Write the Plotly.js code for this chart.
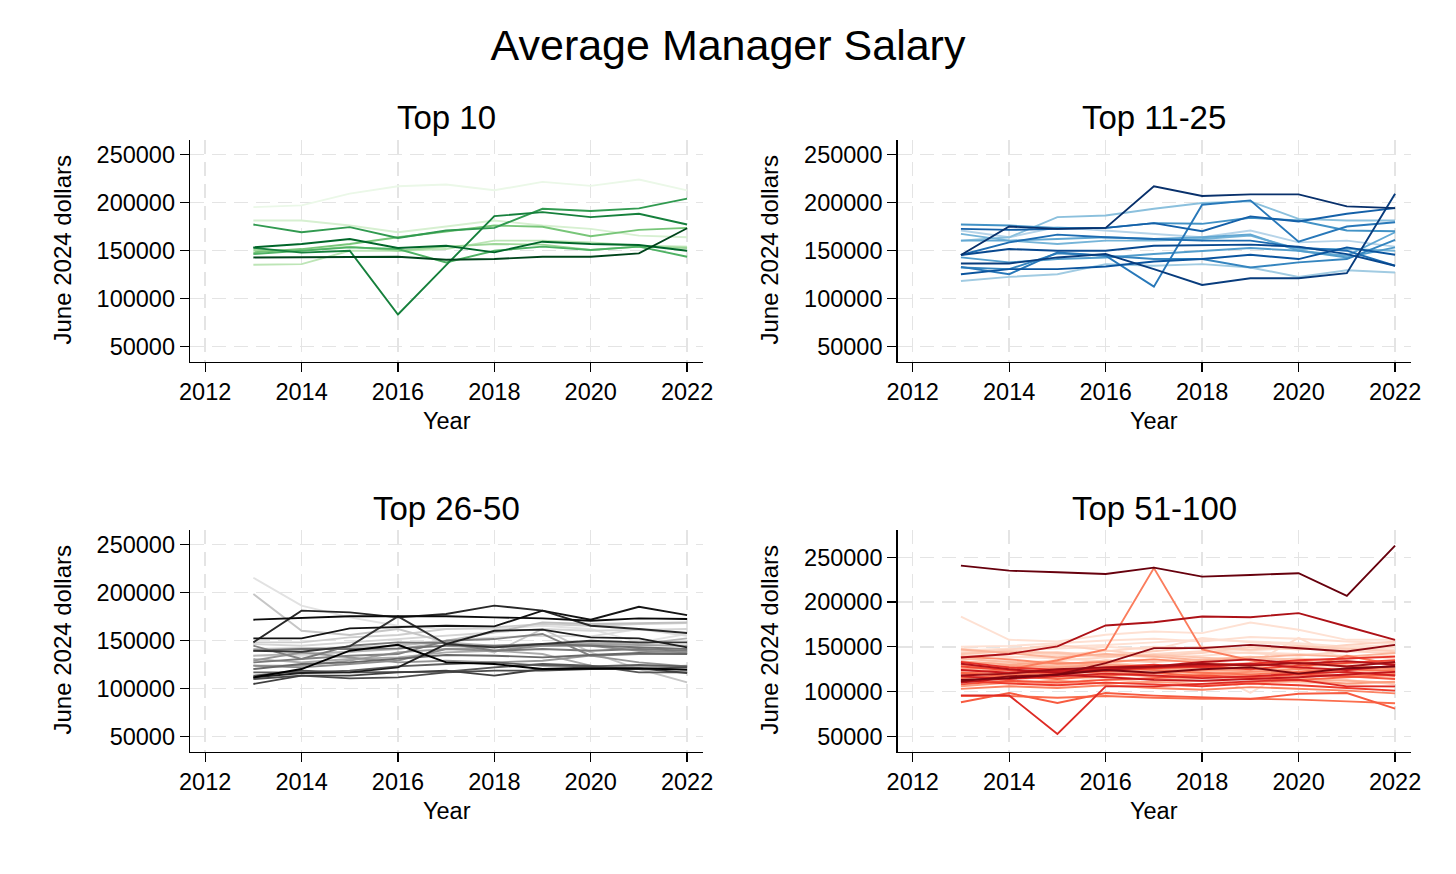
<!DOCTYPE html>
<html>
<head>
<meta charset="utf-8">
<script src="https://cdn.plot.ly/plotly-3.0.1.min.js"></script>
<style>html,body{margin:0;padding:0;background:#fff;}#chart{width:1456px;height:874px;}</style>
</head>
<body>
<div id="chart"></div>
<script>
// ---------- DATA ----------
const years = [2013, 2014, 2015, 2016, 2017, 2018, 2019, 2020, 2021, 2022];
const xTicks = [2012, 2014, 2016, 2018, 2020, 2022];
const yTicks = [50000, 100000, 150000, 200000, 250000];
const panelTitles = ["Top 10", "Top 11-25", "Top 26-50", "Top 51-100"];

// Top 10 managers (ordered light -> dark)
const top10 = [
  [195400, 197200, 209400, 217100, 218900, 212900, 221700, 217500, 224100, 212900],
  [181500, 181500, 176200, 169200, 175200, 181500, 176200, 172700, 165700, 164000],
  [135300, 136000, 150000, 150000, 151700, 160500, 160500, 158700, 155200, 154200],
  [150700, 150000, 154200, 150000, 154200, 157000, 156300, 150700, 154200, 152800],
  [148300, 151700, 157000, 164000, 170000, 176200, 175000, 165000, 171700, 173800],
  [146500, 150000, 153500, 151700, 137800, 150000, 154200, 150700, 154200, 143700],
  [177300, 169200, 174500, 163300, 171000, 173800, 193700, 191300, 194100, 204200],
  [153000, 148000, 150000, 83600, 135000, 186000, 190200, 185000, 188500, 177300],
  [153500, 157000, 162200, 152800, 155200, 148300, 159400, 157000, 155900, 150000],
  [143000, 143000, 143000, 143700, 140600, 141300, 143700, 143700, 147200, 173400]
];

// Top 11-25 (light -> dark)
const top11to25 = [
  [171000, 164000, 174500, 171000, 167500, 164000, 171000, 158700, 160500, 154200],
  [118500, 122700, 125500, 136000, 134300, 136000, 132500, 122700, 129700, 127300],
  [160500, 164000, 185000, 186700, 193700, 199700, 201400, 183200, 181500, 181500],
  [167500, 160500, 157000, 160500, 160500, 162200, 165700, 151700, 151700, 150000],
  [160500, 160500, 162200, 164000, 162200, 164000, 166800, 150000, 144800, 169200],
  [143000, 137800, 141300, 143000, 146500, 150000, 152800, 150000, 143000, 153500],
  [177300, 176200, 173800, 173800, 178700, 178000, 184300, 181500, 171000, 170300],
  [132500, 130800, 147200, 144800, 141300, 141300, 132500, 137800, 141300, 161200],
  [133200, 125500, 148300, 144800, 112600, 197900, 202400, 159400, 175200, 179700],
  [145500, 158700, 166800, 164000, 162200, 160500, 160500, 153500, 150000, 134300],
  [172700, 171700, 172700, 173800, 178700, 170300, 185700, 180400, 188500, 194400],
  [125500, 130800, 130800, 133600, 138800, 141300, 145800, 141300, 153500, 145800],
  [145500, 151700, 150000, 150000, 155200, 155900, 156300, 154200, 146500, 134300],
  [136700, 136700, 143000, 146500, 130800, 114300, 121300, 121300, 126600, 209400],
  [145500, 175200, 172700, 173800, 217100, 207000, 208700, 208700, 196200, 194400]
];

// Top 26-50 (light -> dark)
const top26to50 = [
  [215600, 186500, 174300, 165600, 162200, 162200, 165600, 162200, 148300, 157000],
  [134400, 134400, 137800, 146500, 150000, 153500, 155200, 154500, 162200, 155200],
  [146500, 144800, 148300, 151700, 155200, 158700, 162200, 160400, 161500, 162200],
  [148300, 148300, 153500, 155900, 162200, 163900, 167400, 165600, 167400, 168400],
  [198600, 160400, 155900, 162200, 148300, 137800, 162200, 137800, 120500, 106600],
  [141300, 142000, 143100, 144800, 150000, 158700, 169100, 167400, 168400, 169100],
  [134400, 136100, 138500, 141300, 148300, 144800, 145500, 148300, 146500, 152400],
  [130900, 127400, 130900, 132600, 137800, 139600, 136100, 124000, 122200, 124000],
  [124000, 124000, 129200, 137800, 141300, 143100, 144800, 146500, 145500, 144800],
  [129200, 137800, 132600, 127400, 129200, 127400, 129200, 134400, 127400, 123300],
  [124000, 122200, 125700, 129200, 141300, 139600, 144800, 144800, 139600, 137800],
  [144800, 130900, 134400, 136100, 150000, 151700, 157000, 134400, 136100, 136100],
  [127400, 130900, 144800, 148300, 147600, 139600, 141300, 139600, 141300, 139600],
  [139600, 141300, 141300, 142000, 144800, 144800, 146500, 144800, 143100, 141300],
  [120500, 125700, 127400, 130900, 135100, 134400, 132600, 135100, 137200, 136100],
  [117000, 117000, 118800, 123300, 125700, 127400, 124000, 123300, 124700, 123300],
  [113600, 118800, 117000, 117000, 117700, 122200, 125700, 124000, 117000, 117000],
  [110100, 113600, 110800, 111800, 117000, 118800, 118800, 120500, 120500, 122200],
  [104900, 113600, 113600, 117000, 118800, 113600, 120500, 122200, 121200, 116300],
  [139600, 138500, 144100, 175400, 146500, 143100, 146500, 150000, 148300, 148300],
  [148300, 181300, 179500, 174300, 177800, 186500, 181300, 165600, 162200, 158000],
  [111800, 116300, 117000, 122200, 146500, 160400, 161500, 153500, 152400, 143100],
  [152400, 152400, 162800, 163900, 165600, 164900, 181300, 171900, 185400, 176700],
  [171900, 173300, 175400, 175400, 175400, 174300, 173300, 170800, 173300, 172600],
  [111800, 120500, 139600, 145800, 127400, 125700, 120500, 120500, 121200, 119800]
];

// Top 51-100 (light -> dark)
const top51to100 = [
  [183800, 157800, 156000, 163400, 167100, 165300, 177100, 169000, 157800, 157800],
  [146000, 148000, 150000, 152000, 155000, 158000, 156000, 154000, 150000, 152000],
  [125000, 118000, 104000, 120000, 125000, 123000, 120000, 128000, 125000, 122000],
  [130000, 126000, 122000, 125000, 130000, 126000, 98500, 130000, 127000, 125000],
  [145000, 146000, 148000, 150000, 147000, 160000, 155000, 152000, 149000, 147000],
  [150000, 151000, 154000, 157000, 159000, 156000, 161000, 159000, 156000, 154000],
  [136000, 138000, 140000, 141000, 138000, 140000, 144000, 142000, 140000, 137000],
  [128000, 122000, 116000, 120000, 124000, 126000, 130000, 160000, 134000, 130000],
  [141000, 139000, 137000, 134000, 136000, 133000, 138000, 136000, 134000, 132000],
  [119000, 123000, 126000, 128000, 120000, 118000, 122000, 119000, 117000, 115000],
  [148000, 144000, 141000, 145000, 150000, 148000, 146000, 149000, 147000, 150000],
  [133000, 131000, 135000, 138000, 142000, 145000, 143000, 140000, 145000, 143000],
  [110000, 114000, 118000, 112000, 115000, 117000, 113000, 110000, 108000, 105000],
  [143000, 147000, 152000, 146000, 140000, 143000, 150000, 147000, 152000, 156000],
  [124000, 128000, 131000, 133000, 128000, 130000, 127000, 125000, 123000, 128000],
  [139000, 142000, 144000, 140000, 145000, 150000, 147000, 151000, 148000, 145000],
  [116000, 112000, 108000, 114000, 110000, 112000, 109000, 111000, 113000, 108000],
  [131000, 134000, 129000, 135000, 133000, 136000, 139000, 133000, 137000, 140000],
  [142000, 145000, 143000, 139000, 141000, 138000, 135000, 137000, 133000, 131000],
  [126000, 122000, 119000, 124000, 127000, 123000, 121000, 126000, 124000, 120000],
  [137000, 133000, 128000, 131000, 127000, 129000, 132000, 128000, 131000, 134000],
  [113000, 117000, 121000, 118000, 122000, 120000, 118000, 116000, 119000, 117000],
  [147000, 143000, 138000, 142000, 139000, 135000, 138000, 141000, 139000, 143000],
  [122000, 119000, 116000, 117000, 113000, 115000, 118000, 114000, 112000, 110000],
  [134000, 130000, 133000, 129000, 126000, 124000, 128000, 131000, 129000, 126000],
  [125000, 129000, 127000, 130000, 128000, 125000, 123000, 120000, 124000, 127000],
  [106000, 110000, 112000, 109000, 111000, 108000, 110000, 112000, 109000, 111000],
  [129000, 127000, 125000, 122000, 120000, 124000, 126000, 121000, 118000, 121000],
  [118000, 121000, 124000, 120000, 117000, 119000, 122000, 125000, 121000, 118000],
  [139000, 136000, 131000, 133000, 136000, 132000, 130000, 134000, 128000, 125000],
  [103000, 106000, 104000, 107000, 104000, 102000, 105000, 103000, 101000, 98000],
  [120000, 125000, 135000, 147000, 238000, 147000, 135000, 125000, 140000, 130000],
  [115000, 118000, 122000, 126000, 124000, 121000, 119000, 122000, 125000, 123000],
  [95000, 95000, 93000, 95000, 93000, 92000, 92000, 91000, 89000, 87000],
  [121000, 117000, 114000, 118000, 121000, 117000, 115000, 113000, 116000, 119000],
  [88000, 98400, 87200, 98400, 95400, 93900, 91700, 97600, 98400, 80900],
  [108000, 112000, 110000, 113000, 115000, 118000, 116000, 119000, 117000, 114000],
  [128000, 124000, 120000, 123000, 126000, 128000, 125000, 129000, 132000, 135000],
  [112000, 109000, 107000, 110000, 108000, 106000, 109000, 107000, 104000, 101000],
  [133000, 127000, 124000, 127000, 130000, 127000, 131000, 135000, 137000, 139000],
  [95700, 95700, 52600, 105800, 105800, 108800, 111400, 113200, 105800, 105800],
  [117000, 114000, 117000, 120000, 118000, 115000, 117000, 120000, 122000, 118000],
  [124000, 121000, 123000, 125000, 127000, 129000, 131000, 127000, 124000, 129000],
  [110000, 115000, 119000, 116000, 113000, 112000, 114000, 116000, 119000, 122000],
  [131000, 125000, 121000, 124000, 128000, 133000, 136000, 131000, 134000, 130000],
  [138000, 142000, 150400, 173800, 177500, 183800, 183100, 187600, 172700, 157800],
  [118000, 120000, 125000, 127000, 128000, 131000, 129000, 132000, 128000, 133000],
  [111400, 117000, 118800, 131800, 148500, 148500, 152200, 148500, 144800, 152200],
  [113000, 115000, 119000, 124000, 121000, 125000, 127000, 120000, 126000, 128000],
  [240700, 235100, 233300, 231400, 238500, 228400, 230300, 232200, 206900, 263000]
];

// ---------- STYLE ----------
const greens = ['#f7fcf5','#e5f5e0','#c7e9c0','#a1d99b','#74c476','#41ab5d','#238b45','#006d2c','#00441b'];
const blues  = ['#f7fbff','#deebf7','#c6dbef','#9ecae1','#6baed6','#4292c6','#2171b5','#08519c','#08306b'];
const greys  = ['#ffffff','#f0f0f0','#d9d9d9','#bdbdbd','#969696','#737373','#525252','#252525','#000000'];
const reds   = ['#fff5f0','#fee0d2','#fcbba1','#fc9272','#fb6a4a','#ef3b2c','#cb181d','#a50f15','#67000d'];

function hexToRgb(h){return [parseInt(h.slice(1,3),16),parseInt(h.slice(3,5),16),parseInt(h.slice(5,7),16)];}
function interp(scale, t){
  const p = t*(scale.length-1);
  const i = Math.min(Math.floor(p), scale.length-2);
  const f = p - i;
  const a = hexToRgb(scale[i]), b = hexToRgb(scale[i+1]);
  const c = a.map((v,k)=>Math.round(v+(b[k]-v)*f));
  return 'rgb('+c.join(',')+')';
}

const FONT = 'Liberation Sans, Arial, Helvetica, sans-serif';
const traces = [];
function addPanel(series, scale, tmin, tmax, gamma, xa, ya){
  const n = series.length;
  series.forEach((vals, i) => {
    const t = tmin + (tmax - tmin) * Math.pow(n > 1 ? i/(n-1) : 1, gamma);
    traces.push({
      x: years, y: vals, type: 'scatter', mode: 'lines',
      line: {color: interp(scale, t), width: 1.9},
      xaxis: xa, yaxis: ya, hoverinfo: 'skip', showlegend: false
    });
  });
}
addPanel(top10, greens, 0.08, 1, 1, 'x', 'y');
addPanel(top11to25, blues, 0.3, 1, 0.9, 'x2', 'y2');
addPanel(top26to50, greys, 0.2, 1, 1, 'x3', 'y3');
addPanel(top51to100, reds, 0.12, 1, 2.2, 'x4', 'y4');

const W = 1456, H = 874;
const leftDom = [190/W, 703/W], rightDom = [897.5/W, 1411/W];
const topDom = [1-361.7/H, 1-140/H], botDom = [1-751.7/H, 1-530/H];

function xAxis(dom, anchor){
  return {domain: dom, anchor: anchor, range: [2011.685, 2022.33], tickvals: xTicks,
    showline: true, linecolor: '#000', linewidth: 1.3, ticks: 'outside', ticklen: 9, tickwidth: 1.3, tickcolor: '#000',
    showgrid: true, gridcolor: '#e4e4e4', gridwidth: 1.5, griddash: '14px,8px', zeroline: false,
    tickfont: {family: FONT, size: 23.5, color: '#000'}, fixedrange: true};
}
function yAxis(dom, anchor, range){
  return {domain: dom, anchor: anchor, range: range, tickvals: yTicks, tickformat: 'd',
    showline: true, linecolor: '#000', linewidth: 1.3, ticks: 'outside', ticklen: 9, tickwidth: 1.3, tickcolor: '#000',
    showgrid: true, gridcolor: '#e4e4e4', gridwidth: 1.5, griddash: '14px,8px', zeroline: false,
    tickfont: {family: FONT, size: 23.5, color: '#000'}, fixedrange: true};
}

const annotations = [];
function ann(text, xpx, ypx, size, angle){
  annotations.push({text: text, xref: 'paper', yref: 'paper', x: xpx/W, y: 1-ypx/H,
    xanchor: 'center', yanchor: 'middle', showarrow: false, textangle: angle || 0,
    font: {family: FONT, size: size, color: '#000'}});
}
const cxL = (190+703)/2, cxR = (897.5+1411)/2;
ann(panelTitles[0], cxL, 117, 33);
ann(panelTitles[1], cxR, 117, 33);
ann(panelTitles[2], cxL, 508, 33);
ann(panelTitles[3], cxR, 508, 33);
['June 2024 dollars'].forEach(t => {
  ann(t, 62, 250.5, 24, -90);
  ann(t, 769, 250.5, 24, -90);
  ann(t, 62, 640.5, 24, -90);
  ann(t, 769, 640.5, 24, -90);
});
ann('Year', cxL, 421, 23.5);
ann('Year', cxR, 421, 23.5);
ann('Year', cxL, 811, 23.5);
ann('Year', cxR, 811, 23.5);

const layout = {
  width: W, height: H, margin: {l: 0, r: 0, t: 0, b: 0},
  paper_bgcolor: '#fff', plot_bgcolor: '#fff',
  title: {text: 'Average Manager Salary', x: 0.5, xref: 'container', y: 1-45/H, yref: 'container', yanchor: 'middle',
          font: {family: FONT, size: 43, color: '#000'}},
  xaxis: xAxis(leftDom, 'y'), yaxis: yAxis(topDom, 'x', [34400, 265300]),
  xaxis2: xAxis(rightDom, 'y2'), yaxis2: yAxis(topDom, 'x2', [34400, 265300]),
  xaxis3: xAxis(leftDom, 'y3'), yaxis3: yAxis(botDom, 'x3', [34400, 265300]),
  xaxis4: xAxis(rightDom, 'y4'), yaxis4: yAxis(botDom, 'x4', [32800, 280500]),
  annotations: annotations,
  showlegend: false
};
Plotly.newPlot('chart', traces, layout, {displayModeBar: false, staticPlot: true});
</script>
</body>
</html>
